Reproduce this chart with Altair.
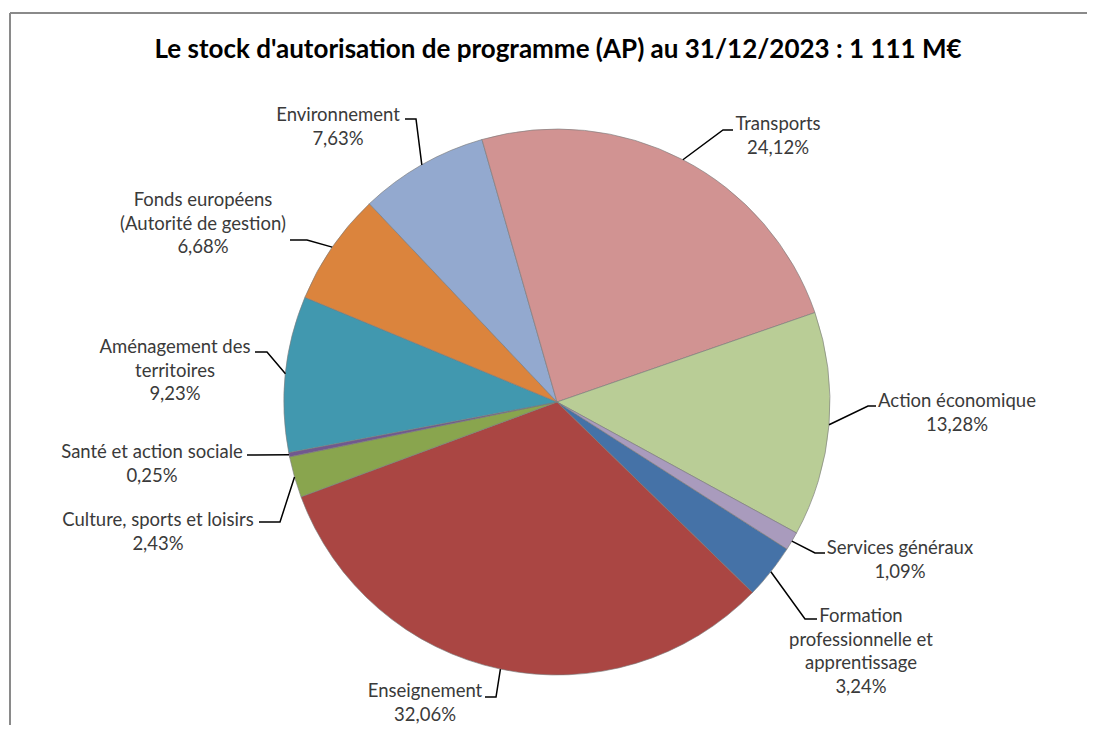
import math
import altair as alt
import pandas as pd

# ---------------- data (Excel series order, clockwise) ----------------
categories = [
    "Formation professionnelle et apprentissage",
    "Enseignement",
    "Culture, sports et loisirs",
    "Santé et action sociale",
    "Aménagement des territoires",
    "Fonds européens (Autorité de gestion)",
    "Environnement",
    "Transports",
    "Action économique",
    "Services généraux",
]
label_text = [
    "Formation\nprofessionnelle et\napprentissage",
    "Enseignement",
    "Culture, sports et loisirs",
    "Santé et action sociale",
    "Aménagement des\nterritoires",
    "Fonds européens\n(Autorité de gestion)",
    "Environnement",
    "Transports",
    "Action économique",
    "Services généraux",
]
shares = [3.24, 32.06, 2.43, 0.25, 9.23, 6.68, 7.63, 24.12, 13.28, 1.09]
colors = ["#4572A7", "#AA4643", "#89A54E", "#71588F", "#4198AF",
          "#DB843D", "#93A9CF", "#D19392", "#B9CD96", "#A99BBD"]
title_text = "Le stock d'autorisation de programme (AP) au 31/12/2023 : 1 111 M€"

# ---------------- layout (page pixel coordinates) ----------------
W, H = 1079, 717
ORIGIN = 8
CX, CY, R = 557, 402, 273
START_DEG = 122.6
LINE_H = 23.5
label_cx = [861, 425, 158, 152, 175, 203, 338, 778, 957, 900]
label_y0 = [616, 691, 520, 452, 347, 200, 115, 124, 401, 548]
elbow_xy = [(805, 619), (496, 697), (280, 522), (255, 455), (267, 352),
            (307, 240), (416, 119), (723, 130), (868, 406), (815, 553)]
tick_end_x = [817, 485, 259, 247, 255, 290, 405, 733, 876, 825]

total = sum(shares)
start = math.radians(START_DEG)

pie_df = pd.DataFrame({"idx": range(len(categories)), "category": categories, "share": shares})

# label lines
rows = []
for i, (txt, v) in enumerate(zip(label_text, shares)):
    lines = txt.split("\n") + [f"{v:.2f}".replace(".", ",") + "%"]
    for j, ln in enumerate(lines):
        rows.append({"category": categories[i], "line": ln,
                     "x": label_cx[i], "y": label_y0[i] + j * LINE_H})
lab_df = pd.DataFrame(rows)

# leader lines (start on the slice edge at the mid-angle)
lead = []
cum = 0.0
for i, v in enumerate(shares):
    mid = start + 2 * math.pi * (cum + v / 2) / total
    cum += v
    p1 = (CX + R * math.sin(mid), CY - R * math.cos(mid))
    p2 = elbow_xy[i]
    p3 = (tick_end_x[i], elbow_xy[i][1])
    for k, (px, py) in enumerate([p1, p2, p3]):
        lead.append({"category": categories[i], "k": k, "x": px, "y": py})
lead_df = pd.DataFrame(lead)

title_df = pd.DataFrame({"t": [title_text], "x": [558], "y": [58]})

xs = alt.Scale(domain=[ORIGIN, ORIGIN + W], range=[0, W], zero=False, nice=False)
ys = alt.Scale(domain=[ORIGIN, ORIGIN + H], range=[0, H], zero=False, nice=False)

pie = alt.Chart(pie_df).mark_arc(
    radius=R, stroke="#7a7a7a", strokeWidth=0.8, strokeOpacity=0.8
).encode(
    theta=alt.Theta("share:Q", stack=True,
                    scale=alt.Scale(range=[start, start + 2 * math.pi])),
    order=alt.Order("idx:Q", sort="ascending"),
    color=alt.Color("category:N", scale=alt.Scale(domain=categories, range=colors), legend=None),
    x=alt.value(CX - ORIGIN),
    y=alt.value(CY - ORIGIN),
)

leaders = alt.Chart(lead_df).mark_line(color="#000000", strokeWidth=1.5).encode(
    x=alt.X("x:Q", scale=xs, axis=None),
    y=alt.Y("y:Q", scale=ys, axis=None),
    detail="category:N",
    order="k:Q",
)

labels = alt.Chart(lab_df).mark_text(
    font="Lato", fontSize=18.5, color="#3a3a3a", align="center", baseline="middle"
).encode(
    x=alt.X("x:Q", scale=xs, axis=None),
    y=alt.Y("y:Q", scale=ys, axis=None),
    text="line:N",
)

title = alt.Chart(title_df).mark_text(
    font="Lato", fontSize=26, fontWeight="bold", color="#000000",
    align="center", baseline="alphabetic"
).encode(
    x=alt.X("x:Q", scale=xs, axis=None),
    y=alt.Y("y:Q", scale=ys, axis=None),
    text="t:N",
)

frame_left = alt.Chart(title_df).mark_rule(color="#8a8a8a", strokeWidth=2).encode(
    x=alt.value(10 - ORIGIN), y=alt.value(13 - ORIGIN), y2=alt.value(H)
)
frame_top = alt.Chart(title_df).mark_rule(color="#8a8a8a", strokeWidth=2).encode(
    x=alt.value(10 - ORIGIN), x2=alt.value(W), y=alt.value(13 - ORIGIN)
)

chart = alt.layer(frame_left, frame_top, pie, leaders, labels, title).properties(
    width=W, height=H, padding=0, autosize=alt.AutoSizeParams(type="none"),
    background="#ffffff",
).configure_view(stroke=None)

chart.save("out.html", embed_options={"renderer": "svg", "actions": False})
